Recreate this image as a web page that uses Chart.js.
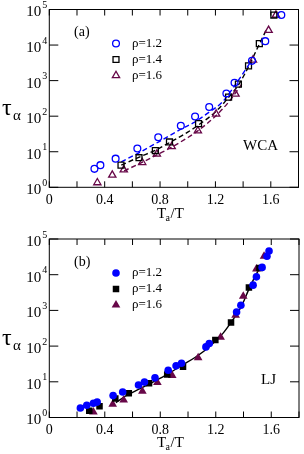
<!DOCTYPE html>
<html>
<head>
<meta charset="utf-8">
<script src="https://cdn.jsdelivr.net/npm/chart.js@4.4.1/dist/chart.umd.min.js"></script>
<style>
html,body{margin:0;padding:0;background:#fff;}
canvas{display:block;}
</style>
</head>
<body>
<canvas id="wca" width="304" height="227"></canvas>
<canvas id="lj" width="304" height="227"></canvas>
<script>
// series labels
const rhoLabels = ['\u03c1=1.2', '\u03c1=1.4', '\u03c1=1.6'];
const xTickValues = [0, 0.2, 0.4, 0.6, 0.8, 1.0, 1.2, 1.4, 1.6, 1.8];
const yDecades = [0, 1, 2, 3, 4, 5];

// (a) WCA  x = Ta/T , y = tau_alpha
const wcaX12 = [0.326, 0.369, 0.479, 0.636, 0.787, 0.950, 1.053, 1.155, 1.279, 1.338, 1.464, 1.560, 1.676];
const wcaY12 = [3.3, 4.2, 6.4, 12.3, 25.5, 54, 98, 182, 436, 870, 3600, 12900, 70000];
const wcaX14 = [0.518, 0.648, 0.766, 0.868, 1.078, 1.295, 1.366, 1.439, 1.517, 1.622];
const wcaY14 = [4.2, 6.8, 10.8, 18.8, 62, 345, 800, 2600, 11000, 70000];
const wcaX16 = [0.347, 0.455, 0.538, 0.671, 0.777, 0.884, 1.073, 1.205, 1.345, 1.471, 1.584, 1.637];
const wcaY16 = [1.35, 2.2, 3.1, 5.0, 8.6, 14, 39, 115, 420, 3800, 26000, 70000];
// dashed fits
const wcaFitX12 = [0.52, 0.65, 0.80, 0.95, 1.05, 1.15, 1.25, 1.35, 1.46];
const wcaFitY12 = [5.2, 9.5, 20, 43, 68, 126, 250, 830, 3600];
const wcaFitX14 = [0.52, 0.65, 0.77, 0.87, 1.00, 1.08, 1.20, 1.30, 1.37, 1.44, 1.52, 1.57];
const wcaFitY14 = [4.2, 7.1, 11.2, 18.2, 35.5, 57.5, 132, 355, 795, 2510, 11200, 28000];
const wcaFitX16 = [0.54, 0.67, 0.78, 0.88, 1.00, 1.07, 1.20, 1.30, 1.39];
const wcaFitY16 = [2.9, 5.0, 8.3, 13.2, 25, 38, 100, 263, 790];

// (b) LJ
const ljX12 = [0.224, 0.270, 0.318, 0.345, 0.460, 0.529, 0.643, 0.686, 0.762, 0.857, 0.914, 0.953, 1.129, 1.153, 1.350, 1.381, 1.469, 1.493, 1.534, 1.569, 1.584];
const ljY12 = [1.85, 2.2, 2.5, 2.7, 4.1, 5.2, 8.1, 9.8, 12.9, 21, 28, 33, 95, 118, 900, 1400, 5100, 8700, 16000, 33000, 46000];
const ljX14 = [0.288, 0.362, 0.476, 0.573, 0.719, 0.850, 0.964, 1.197, 1.310, 1.439, 1.515];
const ljY14 = [1.55, 2.05, 3.4, 4.8, 9.1, 16, 26.5, 148, 457, 4400, 15500];
const ljX16 = [0.318, 0.457, 0.536, 0.671, 0.779, 0.886, 1.073, 1.235, 1.343, 1.398, 1.493, 1.548];
const ljY16 = [1.42, 2.35, 3.1, 5.4, 9.6, 15, 47, 178, 735, 2500, 14500, 33000];
const ljFitX = [0.48, 0.55, 0.65, 0.75, 0.85, 0.95, 1.05, 1.15, 1.25, 1.32, 1.38, 1.44, 1.49, 1.52];
const ljFitY = [2.6, 4.0, 6.3, 10, 16.2, 28, 48, 93, 224, 525, 1200, 4000, 10000, 15800];

const BLUE = '#0000ff', BLACK = '#000000', MAROON = '#670748';
const SERIF = "'Liberation Serif', 'DejaVu Serif', serif";

const pts = (xs, ys) => xs.map((v, i) => ({x: v, y: ys[i]}));

const panelDecor = {
  id: 'panelDecor',
  afterDraw(chart, args, o) {
    const {ctx, chartArea: a, scales: {x, y}} = chart;
    ctx.save();
    ctx.strokeStyle = '#000';
    ctx.lineWidth = 1;
    ctx.strokeRect(a.left, a.top, a.right - a.left, a.bottom - a.top);
    ctx.beginPath();
    xTickValues.forEach(v => {
      const px = x.getPixelForValue(v);
      ctx.moveTo(px, a.bottom); ctx.lineTo(px, a.bottom - 6);
      ctx.moveTo(px, a.top); ctx.lineTo(px, a.top + 6);
    });
    yDecades.forEach(k => {
      const py = y.getPixelForValue(Math.pow(10, k));
      ctx.moveTo(a.left, py); ctx.lineTo(a.left + 9, py);
      ctx.moveTo(a.right, py); ctx.lineTo(a.right - 9, py);
    });
    ctx.stroke();

    // y tick labels 10^k
    ctx.fillStyle = '#000';
    yDecades.forEach(k => {
      const py = y.getPixelForValue(Math.pow(10, k));
      ctx.font = '15px ' + SERIF;
      ctx.textAlign = 'right';
      ctx.textBaseline = 'middle';
      ctx.fillText('10', a.left - 8, py + 3);
      ctx.font = '10px ' + SERIF;
      ctx.textAlign = 'left';
      ctx.fillText(String(k), a.left - 7, py - 4);
    });

    // y title tau_alpha
    const ty = (a.top + a.bottom) / 2;
    ctx.textAlign = 'left';
    ctx.textBaseline = 'alphabetic';
    ctx.font = '24px ' + SERIF;
    ctx.fillText('\u03c4', 2, ty + 17);
    ctx.font = '15px ' + SERIF;
    ctx.fillText('\u03b1', 13, ty + 22);

    // x title Ta/T
    const xb = a.bottom + o.titleGap;
    ctx.font = '15px ' + SERIF;
    ctx.fillText('T', 157, xb);
    ctx.font = '10px ' + SERIF;
    ctx.fillText('a', 165.5, xb + 3);
    ctx.font = '15px ' + SERIF;
    ctx.fillText('/T', 170.5, xb);

    // panel tag and model name
    ctx.font = '14px ' + SERIF;
    ctx.textBaseline = 'middle';
    ctx.fillText(o.tag, 74, a.top + 23);
    ctx.font = '15px ' + SERIF;
    ctx.fillText(o.model, o.modelX, a.top + o.modelY);

    // legend
    o.legend.forEach((it, i) => {
      const ly = a.top + 34 + i * 16;
      ctx.font = '13px ' + SERIF;
      ctx.fillStyle = '#000';
      ctx.fillText(rhoLabels[i], 132, ly);
      ctx.strokeStyle = it.color;
      ctx.fillStyle = it.color;
      ctx.lineWidth = 1.3;
      ctx.beginPath();
      drawMarker(ctx, it.style, 116, ly, it.r);
      if (it.filled) ctx.fill(); else ctx.stroke();
    });
    ctx.restore();
  }
};

function drawMarker(ctx, style, x, y, r) {
  if (style === 'circle') {
    ctx.arc(x, y, r, 0, Math.PI * 2);
  } else if (style === 'rect') {
    const s = r * Math.SQRT1_2;
    ctx.rect(x - s, y - s, 2 * s, 2 * s);
  } else {
    ctx.moveTo(x, y - r);
    ctx.lineTo(x + r * 0.866, y + r * 0.5);
    ctx.lineTo(x - r * 0.866, y + r * 0.5);
    ctx.closePath();
  }
}

function markerSet(data, color, style, r, filled) {
  return {
    type: 'scatter', data: data, pointStyle: style, pointRadius: r,
    borderColor: color, backgroundColor: filled ? color : 'rgba(0,0,0,0)',
    pointBorderWidth: filled ? 0 : 1.3, showLine: false
  };
}

function fitLine(data, color, dash) {
  return {
    type: 'line', data: data, borderColor: color, borderWidth: 1.4,
    borderDash: dash, pointRadius: 0, cubicInterpolationMode: 'monotone', fill: false
  };
}

function makePanel(id, datasets, xHeight, topPad, deco) {
  return new Chart(document.getElementById(id), {
    type: 'scatter',
    data: {datasets: datasets},
    options: {
      responsive: false, animation: false, devicePixelRatio: 1,
      layout: {padding: {top: topPad, right: 2.7, left: 0, bottom: 0}},
      plugins: {legend: {display: false}, tooltip: {enabled: false}, panelDecor: deco},
      scales: {
        x: {
          type: 'linear', min: 0, max: 1.8,
          grid: {display: false, drawTicks: false}, border: {display: false},
          ticks: {
            stepSize: 0.2, autoSkip: false, maxRotation: 0, padding: deco.tickPad,
            color: '#000', font: {family: SERIF, size: 14},
            callback: v => {
              const k = Math.round(v * 10);
              if (k % 4 === 0 && k < 17) return k === 0 ? '0' : (k / 10).toFixed(1);
              return '';
            }
          },
          afterFit: s => { s.height = xHeight; }
        },
        y: {
          type: 'logarithmic', min: 1, max: 100000,
          grid: {display: false}, border: {display: false},
          ticks: {display: false},
          afterFit: s => { s.width = 49.3; }
        }
      }
    },
    plugins: [panelDecor]
  });
}

makePanel('wca', [
  markerSet(pts(wcaX12, wcaY12), BLUE, 'circle', 3.4, false),
  markerSet(pts(wcaX14, wcaY14), BLACK, 'rect', 4.2, false),
  markerSet(pts(wcaX16, wcaY16), MAROON, 'triangle', 4.2, false),
  fitLine(pts(wcaFitX12, wcaFitY12), BLUE, [5, 3]),
  fitLine(pts(wcaFitX14, wcaFitY14), BLACK, [5, 3]),
  fitLine(pts(wcaFitX16, wcaFitY16), MAROON, [5, 3])
], 39.7, 9.5, {
  tag: '(a)', model: 'WCA', modelX: 243, modelY: 137, titleGap: 31, tickPad: 5,
  legend: [
    {color: BLUE, style: 'circle', r: 3.4, filled: false},
    {color: BLACK, style: 'rect', r: 4.2, filled: false},
    {color: MAROON, style: 'triangle', r: 4.2, filled: false}
  ]
});

makePanel('lj', [
  markerSet(pts(ljX12, ljY12), BLUE, 'circle', 3.8, true),
  markerSet(pts(ljX14, ljY14), BLACK, 'rect', 4.6, true),
  markerSet(pts(ljX16, ljY16), MAROON, 'triangle', 5, true),
  fitLine(pts(ljFitX, ljFitY), BLACK, [])
], 36.5, 12, {
  tag: '(b)', model: 'LJ', modelX: 261, modelY: 141, titleGap: 29, tickPad: 4,
  legend: [
    {color: BLUE, style: 'circle', r: 3.8, filled: true},
    {color: BLACK, style: 'rect', r: 4.6, filled: true},
    {color: MAROON, style: 'triangle', r: 5, filled: true}
  ]
});
</script>
</body>
</html>
